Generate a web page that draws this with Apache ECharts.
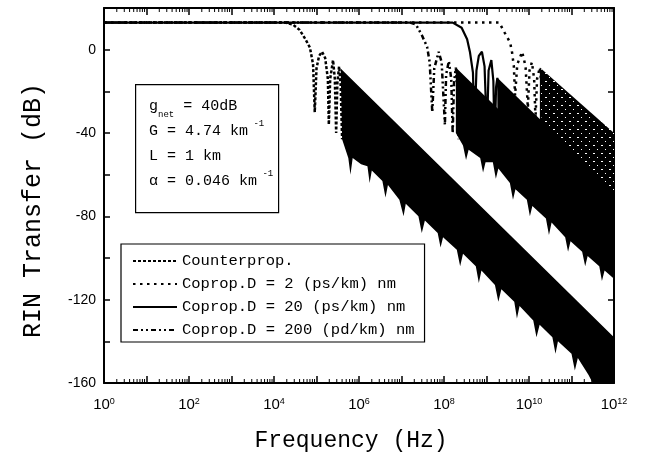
<!DOCTYPE html>
<html>
<head>
<meta charset="utf-8">
<script src="https://cdn.jsdelivr.net/npm/echarts@6.0.0/dist/echarts.min.js"></script>
<style>
html, body { margin: 0; padding: 0; background: #fff; }
#main { width: 646px; height: 463px; }
</style>
</head>
<body>
<div id="main"></div>
<script>
// frequencies in Hz, RIN transfer in dB

// flat part, knee and the first dips of each curve
var counterHead = [[1, 13], [1.8e4, 13], [2.8e4, 12], [4.0e4, 9.5], [5.5e4, 5], [7.0e4, 1], [8.3e4, -7], [9.1e4, -30],
    [1.0e5, -9], [1.15e5, -3], [1.35e5, -1], [1.6e5, -4], [1.85e5, -14], [1.95e5, -36], [2.1e5, -14], [2.45e5, -5],
    [2.7e5, -14], [2.9e5, -40], [3.1e5, -16], [3.4e5, -8], [3.7e5, -17], [4.0e5, -43]];
var d2Head = [[1, 13], [2.0e9, 13], [2.7e9, 8], [3.6e9, 3.4], [4.0e9, -1.4], [4.4e9, -8], [4.7e9, -22], [5.3e9, -7],
    [6.9e9, -1], [8.3e9, -8], [9.4e9, -28], [1.03e10, -10], [1.17e10, -6], [1.32e10, -14], [1.42e10, -33],
    [1.55e10, -14], [1.8e10, -8.5], [1.95e10, -16], [2.0e10, -35]];
var d20Head = [[1, 13], [1.6e8, 13], [2.6e8, 10.5], [3.5e8, 5], [4.1e8, -1.4], [4.8e8, -11], [5.2e8, -38], [5.8e8, -10],
    [6.6e8, -3], [7.8e8, -1], [9.0e8, -8], [1.02e9, -40], [1.12e9, -10], [1.3e9, -5], [1.45e9, -15], [1.55e9, -45],
    [1.68e9, -18], [1.8e9, -13.5], [1.95e9, -20], [2.08e9, -48]];
var d200Head = [[1, 13], [1.6e7, 13], [2.2e7, 12], [3.0e7, 7], [4.0e7, 1.4], [4.6e7, -6], [5.3e7, -30], [5.9e7, -9],
    [7.5e7, -1], [8.8e7, -6], [1.05e8, -36], [1.12e8, -12], [1.3e8, -5.5], [1.48e8, -14], [1.6e8, -40],
    [1.72e8, -16], [1.9e8, -8.6], [2.05e8, -18], [2.2e8, -43]];

// beyond that the dips are too dense to separate: top envelope and bottom of the dips
var counterTop = [[3.7e5, -9], [1e12, -138]];
var counterBottom = [[4.0e5, -43], [5.6e5, -52], [6.3e5, -60], [7.1e5, -52], [1.12e6, -55], [1.58e6, -56],
    [1.78e6, -64], [2.0e6, -58], [3.55e6, -63], [4.2e6, -71], [4.8e6, -65], [8.9e6, -72], [1.12e7, -80],
    [1.26e7, -74], [2.5e7, -80], [3.0e7, -88], [3.55e7, -82], [7.1e7, -88], [8.3e7, -95], [9.5e7, -90],
    [2.0e8, -96], [2.4e8, -104], [2.8e8, -98], [5.6e8, -104], [6.6e8, -112], [7.6e8, -106], [1.58e9, -113],
    [1.9e9, -121], [2.24e9, -115], [4.5e9, -121], [5.2e9, -129], [6.0e9, -123], [1.26e10, -130], [1.5e10, -138],
    [1.78e10, -132], [3.55e10, -138], [4.2e10, -146], [4.8e10, -140], [1.0e11, -146], [1.2e11, -154],
    [1.41e11, -148], [2.5e11, -156], [3.16e11, -160], [1e12, -160]];
var d200Top = [[1.9e8, -8.6], [1e12, -83]];
var d200Bottom = [[1.9e8, -40], [2.8e8, -46], [3.3e8, -53], [3.8e8, -48], [7.1e8, -52], [8.3e8, -59], [9.5e8, -54],
    [1.41e9, -54], [1.66e9, -62], [1.9e9, -57], [3.55e9, -64], [4.2e9, -72], [4.8e9, -67], [8.9e9, -72],
    [1.05e10, -80], [1.2e10, -75], [2.5e10, -81], [2.95e10, -89], [3.4e10, -83], [7.1e10, -90], [8.3e10, -97],
    [9.5e10, -92], [1.78e11, -97], [2.1e11, -104], [2.4e11, -99], [4.5e11, -104], [5.2e11, -111], [6.0e11, -106],
    [1e12, -110]];
var d20Top = [[1.8e9, -13.5], [1e12, -68]];
var d20Bottom = [[1.8e9, -45], [1e12, -100]];
var d2Top = [[1.8e10, -8.5], [1e12, -40]];
var d2Bottom = [[1.8e10, -40], [1e12, -80]];

var names = ['Counterprop.', 'Coprop.D = 2 (ps/km) nm', 'Coprop.D = 20 (ps/km) nm', 'Coprop.D = 200 (pd/km) nm'];

// the x axis is drawn in decades
function toLog(arr) {
    return arr.map(function (p) { return [Math.log10(p[0]), p[1]]; });
}

function curve(name, head, dash, width) {
    return {
        name: name, type: 'line', data: toLog(head), symbol: 'none', showSymbol: false, color: '#000',
        lineStyle: { color: '#000', width: width, type: dash, cap: 'butt' }, z: 4
    };
}

function band(name, top, bottom, fill) {
    var t = toLog(top), b = toLog(bottom);
    return {
        name: name, type: 'custom', silent: true, clip: true, z: 3,
        data: [[0, 0]],
        renderItem: function (params, api) {
            var pts = [];
            t.forEach(function (p) { pts.push(api.coord(p)); });
            for (var i = b.length - 1; i >= 0; i--) pts.push(api.coord(b[i]));
            return { type: 'polygon', shape: { points: pts }, style: { fill: fill } };
        }
    };
}

// white specks of the dotted D = 2 curve inside its dense part
var speck = document.createElement('canvas');
speck.width = 8; speck.height = 8;
var sg = speck.getContext('2d');
sg.fillStyle = '#000'; sg.fillRect(0, 0, 8, 8);
sg.fillStyle = '#fff'; sg.fillRect(1, 1, 2, 1); sg.fillRect(5, 5, 1, 1);

// log minor ticks 2..9 in every decade
var minorTicks = [];
for (var n = 0; n < 12; n++) {
    for (var k = 2; k <= 9; k++) minorTicks.push(n + Math.log10(k));
}

var mono = 'Liberation Mono';
var sans = 'Liberation Sans';
var frame = { onZero: false, lineStyle: { color: '#000', width: 2 } };

var myChart = echarts.init(document.getElementById('main'));

var option = {
    animation: false,
    backgroundColor: '#fff',
    grid: { left: 104, right: 32, top: 8, bottom: 80 },
    xAxis: [{
        type: 'value', min: 0, max: 12, interval: 1, position: 'bottom',
        axisLine: frame,
        axisTick: { inside: true, length: 7, lineStyle: { color: '#000', width: 1.5 } },
        splitLine: { show: false },
        axisLabel: {
            interval: 0, margin: 14, color: '#000',
            formatter: function (v) {
                var e = Math.round(v);
                return e % 2 === 0 ? '{b|10}{s|' + e + '}' : '';
            },
            rich: {
                b: { fontFamily: sans, fontSize: 15, color: '#000' },
                s: { fontFamily: sans, fontSize: 9, color: '#000', verticalAlign: 'top' }
            }
        },
        name: 'Frequency (Hz)', nameLocation: 'middle', nameGap: 46,
        nameTextStyle: { fontFamily: mono, fontSize: 23, color: '#000', padding: [0, 16, 0, 0] }
    }, {
        type: 'value', min: 0, max: 12, interval: 1, position: 'top',
        axisLine: frame,
        axisTick: { inside: true, length: 7, lineStyle: { color: '#000', width: 1.5 } },
        axisLabel: { show: false },
        splitLine: { show: false }
    }],
    yAxis: [{
        type: 'value', min: -160, max: 20, interval: 20, position: 'left',
        axisLine: frame,
        axisTick: { inside: true, length: 6, lineStyle: { color: '#000', width: 1.5 } },
        splitLine: { show: false },
        axisLabel: {
            color: '#000', fontFamily: sans, fontSize: 14, margin: 8,
            formatter: function (v) { return v % 40 === 0 ? String(v) : ''; }
        },
        name: 'RIN Transfer (dB)', nameLocation: 'middle', nameGap: 58,
        nameTextStyle: { fontFamily: mono, fontSize: 25, color: '#000', padding: [0, 30, 0, 0] }
    }, {
        type: 'value', min: -160, max: 20, interval: 20, position: 'right',
        axisLine: frame,
        axisTick: { inside: true, length: 6, lineStyle: { color: '#000', width: 1.5 } },
        axisLabel: { show: false },
        splitLine: { show: false }
    }],
    legend: {
        orient: 'vertical', left: 121, top: 244,
        data: names,
        selectedMode: false,
        itemWidth: 44, itemHeight: 14, itemGap: 7,
        padding: [9, 10, 4, 11],
        backgroundColor: '#fff', borderColor: '#000', borderWidth: 1.2, borderRadius: 0,
        itemStyle: { color: 'rgba(0,0,0,0)', borderWidth: 0, opacity: 0 },
        textStyle: { fontFamily: mono, fontSize: 15.5, color: '#000', lineHeight: 16 }
    },
    graphic: [{
        type: 'rect', left: 135, top: 84, z: 10,
        shape: { width: 143, height: 128 },
        style: { fill: '#fff', stroke: '#000', lineWidth: 1.2 }
    }, {
        type: 'text', left: 149, top: 99, z: 11,
        style: {
            text: '{t|g}{sub|net}{t| = 40dB}\n{t|G = 4.74 km}{sup| -1}\n{t|L = 1 km}\n{t|\u03b1 = 0.046 km}{sup| -1}',
            fill: '#000',
            rich: {
                t: { fontFamily: mono, fontSize: 15, lineHeight: 25, fill: '#000' },
                sub: { fontFamily: mono, fontSize: 9, lineHeight: 25, verticalAlign: 'bottom', fill: '#000' },
                sup: { fontFamily: mono, fontSize: 9, lineHeight: 25, verticalAlign: 'top', fill: '#000' }
            }
        }
    }],
    series: [
        band('d2Band', d2Top, d2Bottom, { image: speck, repeat: 'repeat' }),
        band('counterBand', counterTop, counterBottom, '#000'),
        band('d200Band', d200Top, d200Bottom, '#000'),
        band('d20Band', d20Top, d20Bottom, '#000'),
        curve(names[0], counterHead, [3, 2], 2.5),
        curve(names[1], d2Head, [2.5, 4.5], 2.5),
        curve(names[2], d20Head, 'solid', 2.2),
        curve(names[3], d200Head, [5, 3, 2, 3, 2, 3], 2.5),
        {
            name: 'minorTicks', type: 'custom', silent: true, z: 5,
            data: [[0, 0]],
            renderItem: function (params, api) {
                var cs = params.coordSys;
                var kids = minorTicks.map(function (v) {
                    var x = api.coord([v, 0])[0];
                    return {
                        type: 'group', children: [
                            { type: 'line', shape: { x1: x, y1: cs.y + cs.height, x2: x, y2: cs.y + cs.height - 4 }, style: { stroke: '#000', lineWidth: 1 } },
                            { type: 'line', shape: { x1: x, y1: cs.y, x2: x, y2: cs.y + 4 }, style: { stroke: '#000', lineWidth: 1 } }
                        ]
                    };
                });
                return { type: 'group', children: kids };
            }
        }
    ]
};

myChart.setOption(option);
</script>
</body>
</html>
